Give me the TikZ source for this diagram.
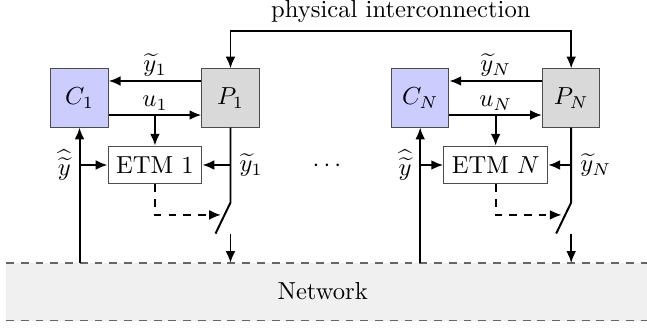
\documentclass[tikz,border=0pt]{standalone}
\usetikzlibrary{calc}
\usetikzlibrary{arrows.meta}

\begin{document}
\begin{tikzpicture}[
  ctrl/.style = {draw = black!70, fill = blue!20, minimum width = .82cm,
    minimum height = .83cm},
  plant/.style = {draw = black!70, fill = black!15, minimum width = .82cm,
    minimum height = .83cm},
  etm/.style = {draw = black!70, fill = white, minimum height = .54cm},
  line/.style = {thick},
  arr/.style = {thick, -{Latex[length = 4.8pt, width = 4pt]}},
  lbl/.style = {midway, above, inner sep = 1.5pt}
  ]
  \useasboundingbox (0, 0) rectangle (9.243, -4.7);

  % network strip
  \fill[black!6] (.086, -3.757) rectangle (9.243, -4.581);
  \draw[semithick, dash pattern = on 3.2pt off 2.8pt, black!60] (.086, -3.757)
  coordinate (NL) -- (9.243, -3.757) coordinate (NR);
  \draw[semithick, dash pattern = on 3.2pt off 2.8pt, black!60] (.086, -4.581)
  -- (9.243, -4.581);
  \node (net) at (4.61, -4.16) {Network};

  \foreach \i/\dx in {1/0, N/4.867} {
    \begin{scope}[xshift = \dx cm]
      \node[ctrl] (C\i) at (1.136, -1.4) {$C_\i$};
      \node[plant] (P\i) at (3.293, -1.4) {$P_\i$};
      \node[etm] (E\i) at (2.214, -2.357) {ETM $\i$};

      % plant <-> controller
      \draw[arr] ($(P\i.west) + (0, .243)$) -- ($(C\i.east) + (0, .243)$)
      node[lbl] {$\widetilde{y}_\i$};
      \draw[arr] ($(C\i.east) + (0, -.243)$) coordinate (U\i) --
      ($(P\i.west) + (0, -.243)$) node[lbl] {$u_\i$};
      \draw[arr] (E\i.north |- U\i) -- (E\i.north);

      % output branch and switch
      \coordinate (SA\i) at ($(P\i.south) + (0, -1.071)$);
      \coordinate (SB\i) at ($(SA\i) + (-.214, -.443)$);
      \draw[line] (P\i.south) -- (SA\i) -- (SB\i);
      \draw[arr] (P\i.south |- E\i.east) node[right] (YT\i)
      {$\widetilde{y}_\i$} -- (E\i.east);
      \draw[thick, dashed, -{Latex[length = 4.8pt, width = 4pt]}]
      (E\i.south) |- ($(SA\i)!.4!(SB\i) + (-.05, 0)$);
      \draw[arr] (P\i.south |- SB\i) -- (P\i.south |- NL);

      % network to controller
      \draw[arr] (C\i.south |- NL) coordinate (Y\i) -- (C\i.south);
      \draw[arr] (C\i.south |- E\i.west) -- (E\i.west);
      \node[left] (YH\i) at (C\i.south |- E\i.west) {$\widehat{\widetilde{y}}$};
    \end{scope}
  }

  \node (dots) at (4.671, -2.37) {$\cdots$};

  % physical coupling
  \draw[thick, {Latex[length = 4.8pt, width = 4pt]}-{Latex[length = 4.8pt,
    width = 4pt]}] (P1.north) |- ($(P1.north)!.5!(PN.north) + (0, .529)$)
  node[above] (phys) {physical interconnection} -| (PN.north);
\end{tikzpicture}
\end{document}
